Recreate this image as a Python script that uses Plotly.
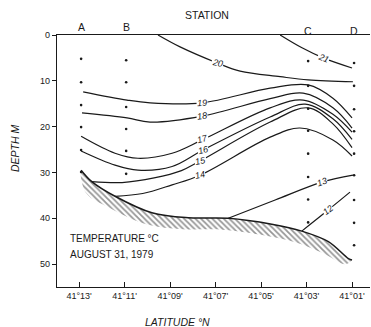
import plotly.graph_objects as go

# ---------------- data (latitude in minutes past 41°N, depth in m) ----------------
tick_lat = [13, 11, 9, 7, 5, 3, 1]
tick_text = ["41°13'", "41°11'", "41°09'", "41°07'", "41°05'", "41°03'", "41°01'"]
depth_ticks = [0, 10, 20, 30, 40, 50]

station_names = ["A", "B", "C", "D"]
station_lat = [12.91, 10.93, 2.93, 0.91]
depth_A = [5.2, 10.3, 15.3, 20.1, 25.1, 29.9]
depth_B = [5.5, 10.3, 15.7, 20.5, 25.3, 30.3]
depth_C = [5.7, 11.1, 16.1, 20.9, 25.9, 31.0, 35.9, 40.9]
depth_D = [6.1, 11.1, 16.2, 21.0, 25.9, 30.6, 36.0, 41.0, 45.9]

bottom_lat = [12.91, 12.44, 11.42, 9.80, 8.20, 6.44, 4.53, 3.21, 2.04, 1.16, 1.0]
bottom_depth = [29.5, 32.0, 35.2, 38.8, 39.9, 40.0, 41.3, 42.8, 45.1, 48.8, 49.1]

t21_lat = [4.16, 3.2, 2.27, 1.0]
t21_dep = [0.0, 2.8, 5.0, 7.2]
t20_lat = [9.53, 8.56, 6.93, 5.92, 4.16, 2.93, 0.96]
t20_dep = [0.0, 2.6, 6.1, 7.9, 9.1, 9.8, 10.2]
t19_lat = [12.82, 10.89, 9.88, 7.59, 4.60, 2.93, 1.84, 1.0]
t19_dep = [12.4, 14.2, 14.8, 14.8, 11.6, 10.9, 13.8, 18.1]
t18_lat = [12.87, 10.89, 9.88, 7.59, 4.60, 3.15, 1.84, 1.0]
t18_dep = [17.0, 18.1, 19.0, 17.7, 13.9, 12.7, 15.9, 20.3]
t17_lat = [12.91, 11.42, 10.41, 8.91, 7.59, 4.60, 3.15, 1.84, 1.0]
t17_dep = [22.1, 25.8, 26.9, 25.8, 22.9, 15.9, 14.2, 17.3, 21.2]
t16_lat = [12.91, 11.42, 10.41, 8.91, 7.55, 4.60, 3.06, 1.84, 1.0]
t16_dep = [25.3, 28.4, 29.5, 28.7, 25.1, 17.9, 15.1, 18.3, 22.8]
t15_lat = [12.44, 11.11, 9.70, 8.50, 7.68, 4.60, 2.93, 1.84, 1.0]
t15_dep = [32.0, 32.2, 31.2, 29.6, 27.5, 19.0, 15.9, 19.4, 24.6]
t14_lat = [11.42, 10.2, 8.91, 7.68, 4.60, 3.29, 1.84, 1.0]
t14_dep = [35.2, 34.6, 32.7, 30.6, 22.3, 20.3, 22.9, 26.4]
t13_lat = [6.44, 4.38, 2.32, 0.96]
t13_dep = [40.0, 36.0, 32.1, 30.6]
t12_lat = [3.21, 2.05, 1.09]
t12_dep = [42.8, 38.2, 34.3]

iso_names = ["21", "20", "19", "18", "17", "16", "15", "14", "13", "12"]
iso_lats = [t21_lat, t20_lat, t19_lat, t18_lat, t17_lat, t16_lat, t15_lat, t14_lat, t13_lat, t12_lat]
iso_deps = [t21_dep, t20_dep, t19_dep, t18_dep, t17_dep, t16_dep, t15_dep, t14_dep, t13_dep, t12_dep]
label_lat = [2.27, 6.93, 7.59, 7.59, 7.59, 7.55, 7.68, 7.68, 2.32, 2.05]
label_dep = [5.0, 6.1, 14.8, 17.7, 22.7, 25.1, 27.5, 30.6, 32.1, 38.2]
label_angle = [22, 12, -3, -8, -15, -14, -12, -13, -19, -39]

# ---------------- figure ----------------
INK = "#1a1a1a"
FONT = "Liberation Sans"
fig = go.Figure()

# hatched sea floor band
n = len(bottom_lat)
taper = [0.0] + [1.0] * (n - 3) + [0.5, 0.0]
low_lat = [la + 0.25 * w for la, w in zip(bottom_lat, taper)]
low_dep = [d + 2.5 * w for d, w in zip(bottom_depth, taper)]
fig.add_trace(go.Scatter(
    x=bottom_lat + low_lat[::-1], y=bottom_depth + low_dep[::-1],
    mode="lines", fill="toself", line=dict(width=0, shape="spline"),
    fillcolor="rgba(0,0,0,0)",
    fillpattern=dict(shape="\\", size=4, solidity=0.45, fgcolor="#2e2e2e", bgcolor="rgba(0,0,0,0)"),
    hoverinfo="skip", showlegend=False))
fig.add_trace(go.Scatter(x=bottom_lat, y=bottom_depth, mode="lines",
                         line=dict(color=INK, width=1.5, shape="spline"),
                         showlegend=False))

# isotherms
for la, de in zip(iso_lats, iso_deps):
    fig.add_trace(go.Scatter(x=la, y=de, mode="lines",
                             line=dict(color=INK, width=1.2, shape="spline", smoothing=1.0),
                             showlegend=False))

# sample points
for la, ds in zip(station_lat, [depth_A, depth_B, depth_C, depth_D]):
    fig.add_trace(go.Scatter(x=[la] * len(ds), y=ds, mode="markers",
                             marker=dict(color=INK, size=2.6), showlegend=False))

anns = []
for name, la, de, ang in zip(iso_names, label_lat, label_dep, label_angle):
    anns.append(dict(x=la, y=de, xref="x", yref="y", text="<i>" + name + "</i>",
                     showarrow=False, textangle=ang, bgcolor="white", borderpad=0,
                     xanchor="center", yanchor="middle",
                     font=dict(family=FONT, size=9, color=INK)))

station_y = [1 + 8 / 252, 1 + 8 / 252, 1 + 4 / 252, 1 + 4 / 252]
for name, la, sy in zip(station_names, station_lat, station_y):
    anns.append(dict(x=la, y=sy, xref="x", yref="paper", text=name, showarrow=False,
                     xanchor="center", yanchor="middle",
                     font=dict(family=FONT, size=10.5, color=INK)))

anns += [
    dict(x=(207 - 57) / 313, y=1 + 20 / 252, xref="paper", yref="paper", text="STATION",
         xanchor="center", yanchor="middle",
         showarrow=False, font=dict(family=FONT, size=10.5, color=INK)),
    dict(x=-(57 - 15) / 313, y=1 - (148 - 35) / 252, xref="paper", yref="paper",
         text="<i>DEPTH M</i>", xanchor="center", yanchor="middle",
         textangle=-90, showarrow=False, font=dict(family=FONT, size=10.5, color=INK)),
    dict(x=(177 - 57) / 313, y=-(322 - 287) / 252, xref="paper", yref="paper",
         text="<i>LATITUDE °N</i>", xanchor="center", yanchor="middle", showarrow=False,
         font=dict(family=FONT, size=10.5, color=INK)),
    dict(x=13.5, y=44.5, xref="x", yref="y", text="TEMPERATURE °C", xanchor="left",
         yanchor="middle", showarrow=False, font=dict(family=FONT, size=10, color=INK)),
    dict(x=13.5, y=47.8, xref="x", yref="y", text="AUGUST 31, 1979", xanchor="left",
         yanchor="middle", showarrow=False, font=dict(family=FONT, size=10, color=INK)),
]

fig.update_layout(
    width=371, height=327, margin=dict(l=57, r=1, t=35, b=40),
    paper_bgcolor="white", plot_bgcolor="white",
    font=dict(family=FONT, color=INK),
    annotations=anns, showlegend=False,
    xaxis=dict(range=[13.97, 0.21], tickvals=tick_lat, ticktext=tick_text,
               ticks="inside", ticklen=5, tickcolor=INK, tickwidth=1.1,
               showline=True, linecolor=INK, linewidth=1.4, mirror=True,
               showgrid=False, zeroline=False, tickfont=dict(size=9, color=INK)),
    yaxis=dict(range=[55, 0], tickvals=depth_ticks, ticks="outside", ticklen=4,
               tickcolor=INK, tickwidth=1.1, showline=True, linecolor=INK, linewidth=1.4,
               showgrid=False, zeroline=False, tickfont=dict(size=9, color=INK)),
)

fig.write_html("out.html")
